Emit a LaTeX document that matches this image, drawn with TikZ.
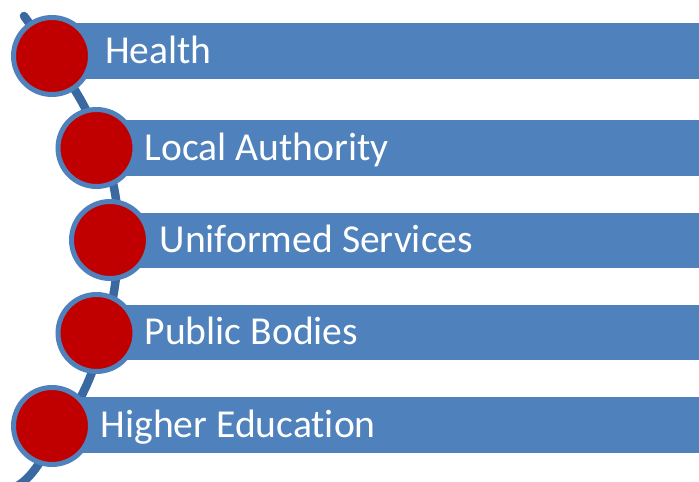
\documentclass[tikz,border=0pt]{standalone}
\usepackage{fontspec}
\setmainfont{Carlito}[Ligatures=NoCommon]
\definecolor{barblue}{RGB}{79,129,189}
\definecolor{spineblue}{RGB}{58,104,160}
\definecolor{dotred}{RGB}{192,0,0}
\begin{document}
\begin{tikzpicture}[x=1pt,y=1pt,
  bar/.style={fill=barblue,draw=none},
  dot/.style={circle,fill=dotred,draw=barblue,line width=5pt,minimum size=77pt,inner sep=0pt},
  label/.style={anchor=base west,inner sep=0pt,text=white,font=\fontsize{39.6}{47}\selectfont},
  spine/.style={draw=spineblue,line width=8.5pt,line cap=round}]
\useasboundingbox (0,0) rectangle (699,482);
\begin{scope}
\clip (0,0) rectangle (699,482);
% curved spine behind the circles
\draw[spine] plot[smooth,tension=0.6] coordinates
  {(24,466) (84,376) (115,289) (115,197) (88,100) (38,17) (17,-4)};
% bars
\fill[bar] (52,403) rectangle (699,459);
\fill[bar] (96.5,306) rectangle (699,362);
\fill[bar] (110,214) rectangle (699,269);
\fill[bar] (96.5,122) rectangle (699,177);
\fill[bar] (52,29) rectangle (699,85);
\end{scope}
% circles
\node[dot] (c1) at (52,426) {};
\node[dot] (c2) at (96.5,334) {};
\node[dot] (c3) at (110,242) {};
\node[dot] (c4) at (96.5,149) {};
\node[dot] (c5) at (52,56) {};
% labels
\node[label] (t1) at (105,418.5) {Health};
\node[label] (t2) at (144.5,321.5) {Local Authority};
\node[label] (t3) at (159.5,229.5) {Uniformed Services};
\node[label] (t4) at (144.5,137) {Public Bodies};
\node[label] (t5) at (100.5,44.5) {Higher Education};
\end{tikzpicture}
\end{document}
